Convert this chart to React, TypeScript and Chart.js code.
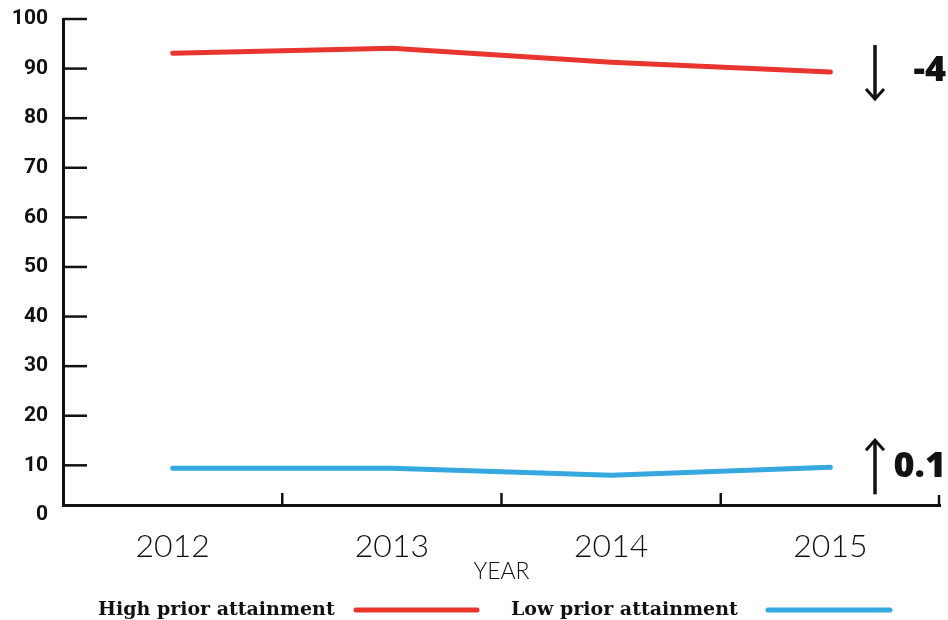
import React, { useEffect, useRef } from "react";
import { Chart, registerables } from "chart.js";

Chart.register(...registerables);

const years = ["2012", "2013", "2014", "2015"];
const highPrior = [93.1, 94.1, 91.3, 89.3];
const lowPrior = [9.4, 9.4, 8.0, 9.6];
const yTickValues = [0, 10, 20, 30, 40, 50, 60, 70, 80, 90, 100];
const seriesNames = ["High prior attainment", "Low prior attainment"];
const seriesColors = ["#e8352e", "#35a8e0"];
const changeLabels = ["-4", "0.1"];
const changeDirections = ["down", "up"];
const axisTitle = "YEAR";

const annotationPlugin = {
  id: "customDecor",
  afterDraw(chart: any) {
    const ctx = chart.ctx;
    const area = chart.chartArea;
    const xs = chart.scales.x;
    const ys = chart.scales.y;
    ctx.save();
    ctx.strokeStyle = "#111";
    ctx.lineWidth = 2.5;
    yTickValues.forEach((v) => {
      if (v < ys.min) return;
      const y = ys.getPixelForValue(v);
      ctx.beginPath();
      ctx.moveTo(area.left, y);
      ctx.lineTo(area.left + 24, y);
      ctx.stroke();
    });
    const step = xs.getPixelForValue(1) - xs.getPixelForValue(0);
    years.forEach((_, i) => {
      const x = Math.min(xs.getPixelForValue(i) + step / 2, area.right - 1);
      ctx.beginPath();
      ctx.moveTo(x, area.bottom);
      ctx.lineTo(x, area.bottom - (i === years.length - 1 ? 10 : 12));
      ctx.stroke();
    });
    const datasets = [highPrior, lowPrior];
    datasets.forEach((data, i) => {
      const yc = ys.getPixelForValue(data[data.length - 1]);
      const ax = area.right - 65;
      const top = yc - 27;
      const bot = yc + 27;
      ctx.strokeStyle = "#111";
      ctx.lineWidth = 3.5;
      ctx.lineCap = "butt";
      ctx.beginPath();
      ctx.moveTo(ax, top);
      ctx.lineTo(ax, bot);
      ctx.stroke();
      ctx.lineWidth = 3;
      ctx.beginPath();
      if (changeDirections[i] === "down") {
        ctx.moveTo(ax - 9, bot - 10);
        ctx.lineTo(ax, bot);
        ctx.lineTo(ax + 9, bot - 10);
      } else {
        ctx.moveTo(ax - 9, top + 10);
        ctx.lineTo(ax, top);
        ctx.lineTo(ax + 9, top + 10);
      }
      ctx.stroke();
      ctx.fillStyle = "#111";
      ctx.font = "800 36px 'Open Sans'";
      ctx.textAlign = "right";
      ctx.textBaseline = "middle";
      ctx.fillText(changeLabels[i], area.right + 6, yc - 1);
    });
    const ly = 610;
    ctx.font = "bold 19px 'DejaVu Serif'";
    ctx.textAlign = "left";
    ctx.textBaseline = "middle";
    ctx.fillStyle = "#111";
    const legendX = [98, 511];
    const lineX = [[356, 477], [768, 890]];
    seriesNames.forEach((name, i) => {
      ctx.fillText(name, legendX[i], ly);
      ctx.strokeStyle = seriesColors[i];
      ctx.lineWidth = 5;
      ctx.lineCap = "round";
      ctx.beginPath();
      ctx.moveTo(lineX[i][0], ly);
      ctx.lineTo(lineX[i][1], ly);
      ctx.stroke();
    });
    ctx.restore();
  },
};

export default function App() {
  const ref = useRef<HTMLCanvasElement>(null);
  useEffect(() => {
    if (!ref.current) return;
    const chart = new Chart(ref.current, {
      type: "line",
      data: {
        labels: years,
        datasets: [
          {
            label: seriesNames[0],
            data: highPrior,
            borderColor: seriesColors[0],
            borderWidth: 5,
            pointRadius: 0,
            borderCapStyle: "round",
            tension: 0,
          },
          {
            label: seriesNames[1],
            data: lowPrior,
            borderColor: seriesColors[1],
            borderWidth: 5,
            pointRadius: 0,
            borderCapStyle: "round",
            tension: 0,
          },
        ],
      },
      options: {
        responsive: false,
        animation: false,
        devicePixelRatio: 1,
        layout: { padding: { left: 0, right: 8, top: 19, bottom: 35 } },
        plugins: { legend: { display: false }, tooltip: { enabled: false } },
        scales: {
          x: {
            offset: true,
            grid: { display: false, drawTicks: false },
            border: { display: true, color: "#111", width: 3 },
            ticks: {
              color: "#111",
              padding: 22,
              font: { family: "Lato", size: 32, weight: "300" },
              maxRotation: 0,
            },
            title: {
              display: true,
              text: axisTitle,
              color: "#111",
              font: { family: "Lato", size: 23, weight: "300" },
              padding: { top: 0, bottom: 0 },
            },
            afterFit(scale: any) {
              scale.height = 80;
              scale.paddingLeft = 0;
              scale.paddingRight = 0;
            },
          },
          y: {
            min: 2,
            max: 100,
            grid: { display: false, drawTicks: false },
            border: { display: true, color: "#111", width: 3 },
            ticks: {
              color: "#111",
              padding: 15,
              autoSkip: false,
              font: { family: "Roboto", size: 21, weight: "bold" },
            },
            afterBuildTicks(scale: any) {
              scale.ticks = yTickValues.map((v) => ({ value: v }));
            },
            afterFit(scale: any) {
              scale.width = 63;
              scale.paddingTop = 0;
              scale.paddingBottom = 0;
            },
          },
        },
      },
      plugins: [annotationPlugin],
    });
    return () => chart.destroy();
  }, []);
  return (
    <div style={{ position: "fixed", left: 0, top: 0, width: 948, height: 620, background: "#fff" }}>
      <canvas ref={ref} width={948} height={620} />
    </div>
  );
}
